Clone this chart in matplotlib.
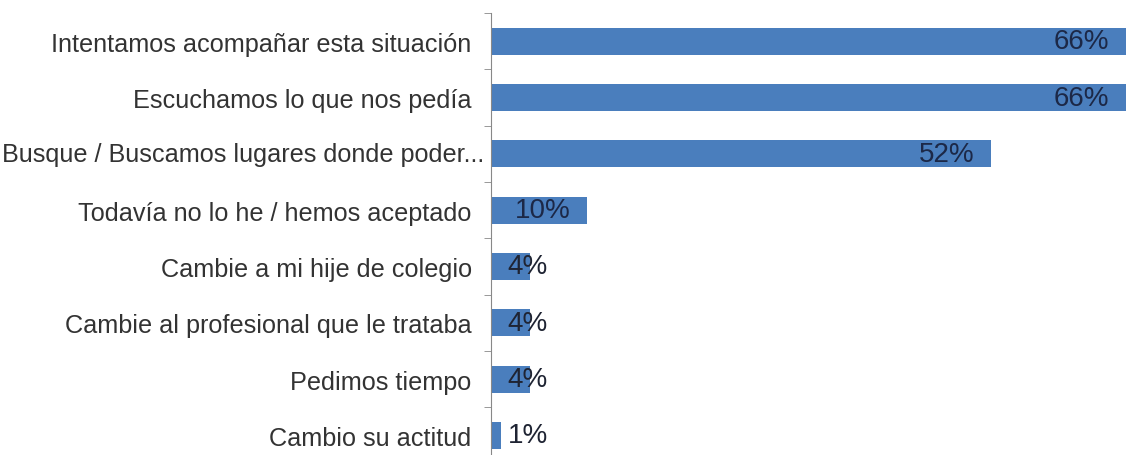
import matplotlib.pyplot as plt
import numpy as np

categorias = ['Intentamos acompañar esta situación',
              'Escuchamos lo que nos pedía',
              'Busque / Buscamos lugares donde poder...',
              'Todavía no lo he / hemos aceptado',
              'Cambie a mi hije de colegio',
              'Cambie al profesional que le trataba',
              'Pedimos tiempo',
              'Cambio su actitud']
valores = [66, 66, 52, 10, 4, 4, 4, 1]
etiquetas = ['66%', '66%', '52%', '10%', '4%', '4%', '4%', '1%']

plt.rcParams['font.family'] = ['Liberation Sans', 'DejaVu Sans']

fig = plt.figure(figsize=(11.29, 4.56), dpi=100)
ax = fig.add_axes([0.435, 0.0, 0.565, 0.969])

y = np.arange(len(categorias))
ax.barh(y, valores, height=0.48, color='#4a7ebd')

for yi, v, lab in zip(y, valores, etiquetas):
    if v >= 10:
        ax.annotate(lab, (v, yi), xytext=(-12, 0), textcoords='offset points',
                    ha='right', va='center', fontsize=20, color='#1c2847')
    else:
        ax.annotate(lab, (0, yi), xytext=(12, 0), textcoords='offset points',
                    ha='left', va='center', fontsize=20, color='#1f2433')

# category labels; the long one sits closer to the axis
nombres = list(categorias)
nombres[2] = ''
ax.set_yticks(y)
ax.set_yticklabels(nombres, fontsize=18.2, color='#333333')
ax.annotate(categorias[2], (0, 2), xytext=(-5, 0), textcoords='offset points',
            ha='right', va='center', fontsize=18.2, color='#333333',
            annotation_clip=False)
ax.tick_params(axis='y', which='major', length=0, pad=14)
ax.set_yticks(np.arange(-0.5, len(categorias), 1), minor=True)
ax.tick_params(axis='y', which='minor', length=5, color='#888888')
ax.set_xticks([])

ax.set_xlim(0, 66.3)
ax.set_ylim(7.35, -0.5)

for s in ['top', 'right', 'bottom']:
    ax.spines[s].set_visible(False)
ax.spines['left'].set_color('#888888')

plt.savefig('out.png', dpi=100)
